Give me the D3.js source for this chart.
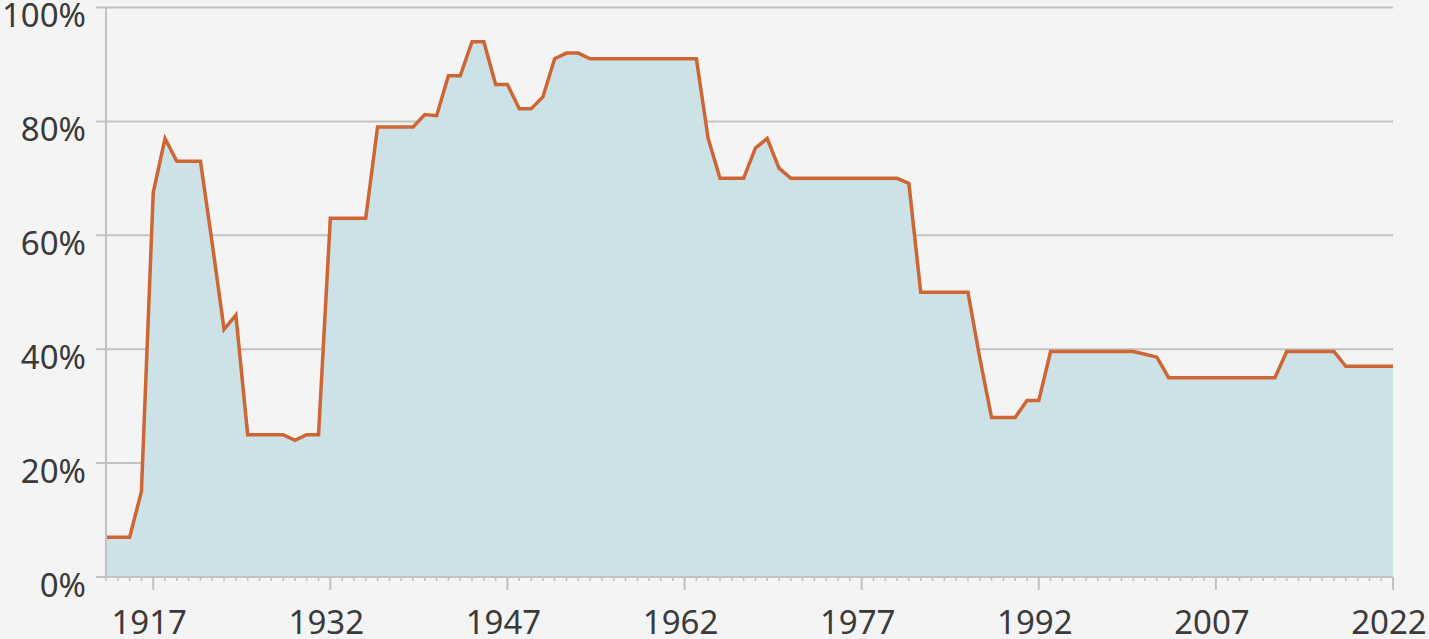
<!DOCTYPE html>
<html>
<head>
<meta charset="utf-8">
<script src="https://cdn.jsdelivr.net/npm/d3@7"></script>
<style>
  html, body { margin: 0; padding: 0; background: #f4f4f4; }
  svg { display: block; }
  text { font-family: "Noto Sans", "Open Sans", sans-serif; fill: #3a3a3a; }
</style>
</head>
<body>
<div id="chart"></div>
<script>
// yearly share, in percent
const years = [
  1913, 1914, 1915, 1916, 1917, 1918, 1919, 1920, 1921, 1922,
  1923, 1924, 1925, 1926, 1927, 1928, 1929, 1930, 1931, 1932,
  1933, 1934, 1935, 1936, 1937, 1938, 1939, 1940, 1941, 1942,
  1943, 1944, 1945, 1946, 1947, 1948, 1949, 1950, 1951, 1952,
  1953, 1954, 1955, 1956, 1957, 1958, 1959, 1960, 1961, 1962,
  1963, 1964, 1965, 1966, 1967, 1968, 1969, 1970, 1971, 1972,
  1973, 1974, 1975, 1976, 1977, 1978, 1979, 1980, 1981, 1982,
  1983, 1984, 1985, 1986, 1987, 1988, 1989, 1990, 1991, 1992,
  1993, 1994, 1995, 1996, 1997, 1998, 1999, 2000, 2001, 2002,
  2003, 2004, 2005, 2006, 2007, 2008, 2009, 2010, 2011, 2012,
  2013, 2014, 2015, 2016, 2017, 2018, 2019, 2020, 2021, 2022
];
const shares = [
  7, 7, 7, 15, 67.5, 77, 73, 73, 73, 58.5,
  43.5, 46, 25, 25, 25, 25, 24, 25, 25, 63,
  63, 63, 63, 79, 79, 79, 79, 81.2, 81, 88,
  88, 94, 94, 86.5, 86.5, 82.2, 82.2, 84.3, 91, 92,
  92, 91, 91, 91, 91, 91, 91, 91, 91, 91,
  91, 77, 70, 70, 70, 75.3, 77, 71.8, 70, 70,
  70, 70, 70, 70, 70, 70, 70, 70, 69.1, 50,
  50, 50, 50, 50, 38.5, 28, 28, 28, 31, 31,
  39.6, 39.6, 39.6, 39.6, 39.6, 39.6, 39.6, 39.6, 39.1, 38.6,
  35, 35, 35, 35, 35, 35, 35, 35, 35, 35,
  39.6, 39.6, 39.6, 39.6, 39.6, 37, 37, 37, 37, 37
];
const yTicks = [0, 20, 40, 60, 80, 100];
const xTicks = [1917, 1932, 1947, 1962, 1977, 1992, 2007, 2022];

const data = years.map((y, i) => ({ year: y, v: shares[i] }));

const width = 1429, height = 639;
const mLeft = 106, mRight = 1393, mTop = 7.5, mBottom = 577;

const svg = d3.select("#chart").append("svg")
  .attr("width", width)
  .attr("height", height);

svg.append("rect")
  .attr("width", width).attr("height", height)
  .attr("fill", "#f4f4f4");

const x = d3.scaleLinear().domain([1913, 2022]).range([mLeft, mRight]);
const y = d3.scaleLinear().domain([0, 100]).range([mBottom, mTop]);

// horizontal grid
svg.append("g")
  .selectAll("line")
  .data(yTicks)
  .join("line")
  .attr("x1", mLeft - 10)
  .attr("x2", mRight)
  .attr("y1", d => y(d))
  .attr("y2", d => y(d))
  .attr("stroke", "#c2c2c2")
  .attr("stroke-width", 2);

// area + line
const area = d3.area()
  .x(d => x(d.year))
  .y0(y(0))
  .y1(d => y(d.v));

svg.append("path")
  .datum(data)
  .attr("d", area)
  .attr("fill", "#cce2e6");

const line = d3.line()
  .x(d => x(d.year))
  .y(d => y(d.v));

svg.append("path")
  .datum(data)
  .attr("d", line)
  .attr("fill", "none")
  .attr("stroke", "#cd6634")
  .attr("stroke-width", 3.5)
  .attr("stroke-linejoin", "miter");

// y axis line
svg.append("line")
  .attr("x1", mLeft).attr("x2", mLeft)
  .attr("y1", mTop).attr("y2", mBottom)
  .attr("stroke", "#c2c2c2")
  .attr("stroke-width", 2);

// y labels
svg.append("g")
  .selectAll("text")
  .data(yTicks)
  .join("text")
  .attr("x", 86)
  .attr("y", d => y(d) + 8)
  .attr("dy", "0.35em")
  .attr("text-anchor", "end")
  .attr("font-size", 33)
  .text(d => d + "%");

// x axis: line, minor yearly ticks, major ticks
svg.append("line")
  .attr("x1", mLeft - 10).attr("x2", mRight)
  .attr("y1", mBottom).attr("y2", mBottom)
  .attr("stroke", "#c2c2c2")
  .attr("stroke-width", 2);

svg.append("g")
  .selectAll("line")
  .data(years)
  .join("line")
  .attr("x1", d => x(d)).attr("x2", d => x(d))
  .attr("y1", mBottom).attr("y2", mBottom + 4)
  .attr("stroke", "#c2c2c2")
  .attr("stroke-width", 1.5);

svg.append("g")
  .selectAll("line")
  .data(xTicks)
  .join("line")
  .attr("x1", d => x(d)).attr("x2", d => x(d))
  .attr("y1", mBottom).attr("y2", mBottom + 13)
  .attr("stroke", "#c2c2c2")
  .attr("stroke-width", 2);

svg.append("g")
  .selectAll("text")
  .data(xTicks)
  .join("text")
  .attr("x", d => x(d) - 4)
  .attr("y", 622)
  .attr("dy", "0.35em")
  .attr("text-anchor", "middle")
  .attr("font-size", 33)
  .text(d => d);
</script>
</body>
</html>
